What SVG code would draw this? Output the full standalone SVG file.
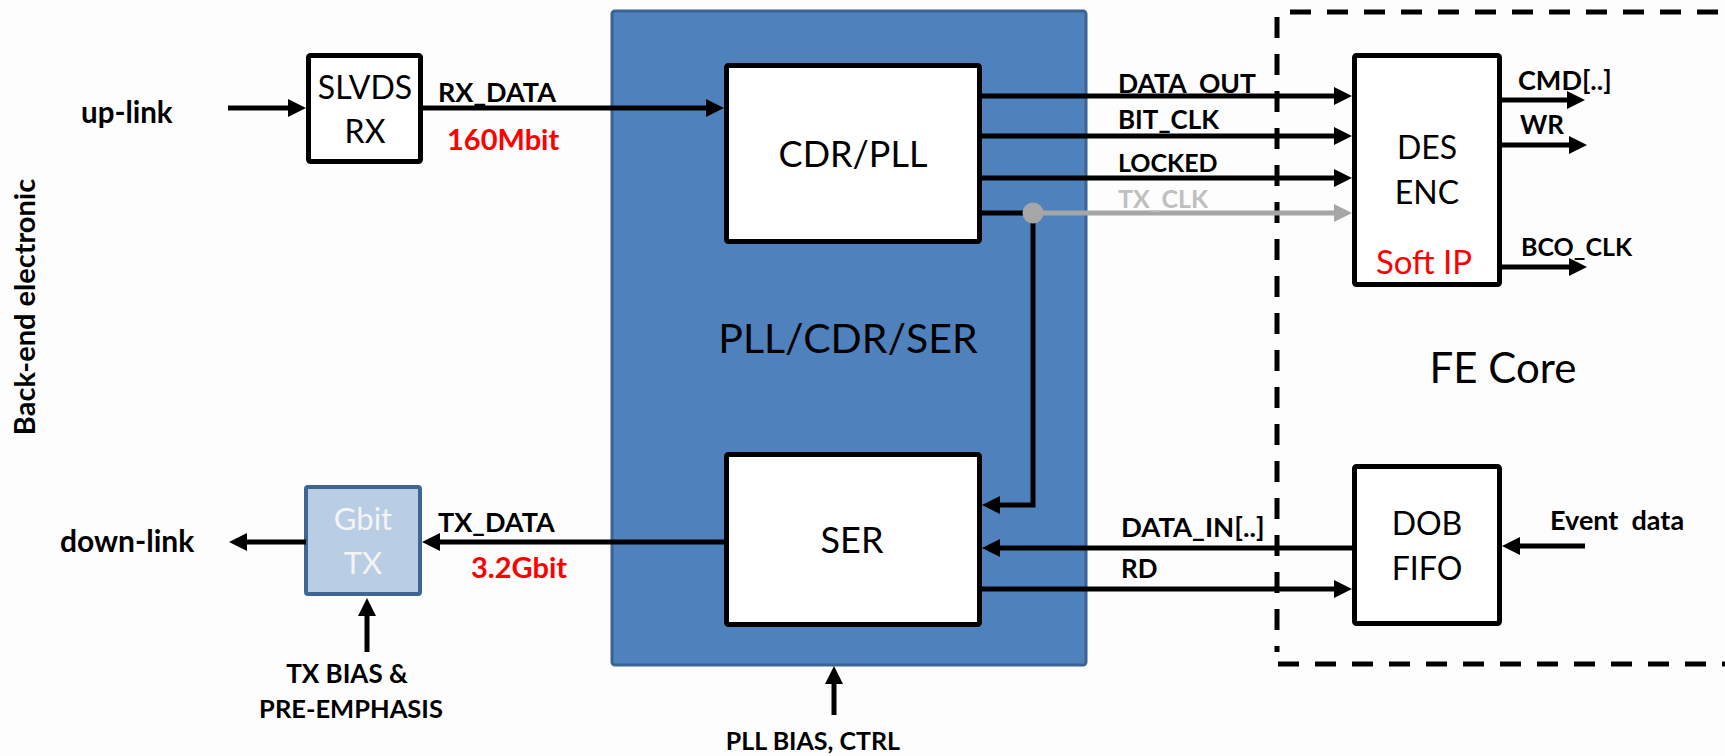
<svg xmlns="http://www.w3.org/2000/svg" width="1725" height="756" viewBox="0 0 1725 756">
  <style>
    .bg { fill: #fdfdfd; }
    .box { fill: #ffffff; stroke: #000000; stroke-width: 5; }
    .block { fill: #4f81bd; stroke: #3a6494; stroke-width: 3; }
    .txbox { fill: #b9cde5; stroke: #3e6593; stroke-width: 4; }
    .wire { fill: none; stroke: #000000; stroke-width: 5; }
    .wire-gray { fill: none; stroke: #a6a6a6; stroke-width: 5; }
    .dash { fill: none; stroke: #000000; stroke-width: 5; stroke-dasharray: 21 16; }
    .name { font-family: Lato, "Liberation Sans", sans-serif; fill: #000000; text-anchor: middle; }
    .sig { font-family: Lato, "Liberation Sans", sans-serif; font-weight: bold; font-size: 26px; fill: #000000; }
    .rate { font-family: Lato, "Liberation Sans", sans-serif; font-weight: bold; font-size: 29px; fill: #ff0000; }
  </style>
  <defs>
    <marker id="arrow" viewBox="0 0 18 18" refX="6" refY="9" markerWidth="18" markerHeight="18" markerUnits="userSpaceOnUse" orient="auto">
      <path d="M0,0 L18,9 L0,18 z" fill="#000000"/>
    </marker>
    <marker id="arrow-gray" viewBox="0 0 18 18" refX="6" refY="9" markerWidth="18" markerHeight="18" markerUnits="userSpaceOnUse" orient="auto">
      <path d="M0,0 L18,9 L0,18 z" fill="#a6a6a6"/>
    </marker>
  </defs>

  <rect class="bg" x="0" y="0" width="1725" height="756"/>

  <!-- side caption -->
  <text class="sig" transform="translate(35,307) rotate(-90)" text-anchor="middle" style="font-size:29px">Back-end electronic</text>

  <!-- front-end core boundary -->
  <g id="fe-core">
    <line class="dash" x1="1290" y1="12" x2="1725" y2="12"/>
    <line class="dash" x1="1277" y1="17" x2="1277" y2="652"/>
    <line class="dash" x1="1278" y1="664" x2="1725" y2="664"/>
    <text class="name" x="1503" y="383" font-size="42">FE Core</text>
  </g>

  <!-- PLL / CDR / SER macro -->
  <g id="pll-cdr-ser">
    <rect class="block" x="612" y="11" width="474" height="654" rx="3"/>
    <text class="name" x="848" y="353" font-size="41">PLL/CDR/SER</text>
  </g>

  <g id="slvds-rx">
    <rect class="box" x="308.5" y="55.5" width="112" height="106" rx="2"/>
    <text class="name" x="365" y="99" font-size="32">SLVDS</text>
    <text class="name" x="365" y="143" font-size="32">RX</text>
  </g>

  <g id="cdr-pll">
    <rect class="box" x="726.5" y="65.5" width="253" height="176" rx="2"/>
    <text class="name" x="853" y="167" font-size="36">CDR/PLL</text>
  </g>

  <g id="ser">
    <rect class="box" x="726.5" y="454.5" width="253" height="170" rx="2"/>
    <text class="name" x="852" y="553" font-size="36">SER</text>
  </g>

  <g id="des-enc">
    <rect class="box" x="1354.5" y="55.5" width="145" height="229" rx="2"/>
    <text class="name" x="1427" y="159" font-size="32">DES</text>
    <text class="name" x="1427" y="204" font-size="32">ENC</text>
    <text class="name" x="1424" y="274" font-size="33" style="fill:#ff0000">Soft IP</text>
  </g>

  <g id="dob-fifo">
    <rect class="box" x="1354.5" y="466.5" width="145" height="157" rx="2"/>
    <text class="name" x="1427" y="535" font-size="32">DOB</text>
    <text class="name" x="1427" y="580" font-size="32">FIFO</text>
  </g>

  <g id="gbit-tx">
    <rect class="txbox" x="306" y="487" width="114" height="107" rx="2"/>
    <text class="name" x="363" y="530" font-size="31" style="fill:#f4f4f4">Gbit</text>
    <text class="name" x="363" y="574" font-size="31" style="fill:#f4f4f4">TX</text>
  </g>

  <!-- connectors -->
  <g id="connectors">
    <line class="wire" x1="228" y1="108" x2="294" y2="108" marker-end="url(#arrow)"/>
    <line class="wire" x1="421" y1="108" x2="712" y2="108" marker-end="url(#arrow)"/>
    <line class="wire" x1="980" y1="96" x2="1340" y2="96" marker-end="url(#arrow)"/>
    <line class="wire" x1="980" y1="136" x2="1340" y2="136" marker-end="url(#arrow)"/>
    <line class="wire" x1="980" y1="178" x2="1340" y2="178" marker-end="url(#arrow)"/>
    <line class="wire" x1="980" y1="213" x2="1033" y2="213"/>
    <line class="wire-gray" x1="1033" y1="213" x2="1340" y2="213" marker-end="url(#arrow-gray)"/>
    <polyline class="wire" points="1033,213 1033,505 994,505" marker-end="url(#arrow)"/>
    <circle cx="1033" cy="213" r="10.5" fill="#a6a6a6"/>
    <line class="wire" x1="1500" y1="100" x2="1573" y2="100" marker-end="url(#arrow)"/>
    <line class="wire" x1="1500" y1="145" x2="1575" y2="145" marker-end="url(#arrow)"/>
    <line class="wire" x1="1500" y1="267" x2="1575" y2="267" marker-end="url(#arrow)"/>
    <line class="wire" x1="726" y1="542" x2="434" y2="542" marker-end="url(#arrow)"/>
    <line class="wire" x1="306" y1="542" x2="241" y2="542" marker-end="url(#arrow)"/>
    <line class="wire" x1="1354" y1="548" x2="994" y2="548" marker-end="url(#arrow)"/>
    <line class="wire" x1="980" y1="589" x2="1340" y2="589" marker-end="url(#arrow)"/>
    <line class="wire" x1="1585" y1="546" x2="1514" y2="546" marker-end="url(#arrow)"/>
    <line class="wire" x1="367" y1="652" x2="367" y2="610" marker-end="url(#arrow)"/>
    <line class="wire" x1="834" y1="715" x2="834" y2="678" marker-end="url(#arrow)"/>
  </g>

  <!-- signal labels -->
  <g id="labels">
    <text class="sig" x="81" y="123" style="font-size:29.5px">up-link</text>
    <text class="sig" x="60" y="552" style="font-size:30px">down-link</text>
    <text class="sig" x="438" y="102" style="font-size:27px">RX_DATA</text>
    <text class="rate" x="447" y="150">160Mbit</text>
    <text class="sig" x="438" y="532" style="font-size:27px">TX_DATA</text>
    <text class="rate" x="471" y="578">3.2Gbit</text>
    <text class="sig" x="1118" y="93" style="font-size:26.5px">DATA_OUT</text>
    <text class="sig" x="1118" y="129">BIT_CLK</text>
    <text class="sig" x="1118" y="172" style="font-size:25px">LOCKED</text>
    <text class="sig" x="1118" y="208" style="font-size:25px;fill:#bfbfbf">TX_CLK</text>
    <text class="sig" x="1518" y="90" style="font-size:27px">CMD[..]</text>
    <text class="sig" x="1520" y="134">WR</text>
    <text class="sig" x="1521" y="256" style="font-size:25px">BCO_CLK</text>
    <text class="sig" x="1121" y="537" style="font-size:27.5px">DATA_IN[..]</text>
    <text class="sig" x="1121" y="578">RD</text>
    <text class="sig" x="1550" y="530" style="font-size:27px" xml:space="preserve">Event  data</text>
    <text class="sig" x="347" y="683" text-anchor="middle">TX BIAS &amp;</text>
    <text class="sig" x="351" y="718" text-anchor="middle" style="font-size:25.5px">PRE-EMPHASIS</text>
    <text class="sig" x="813" y="750" text-anchor="middle" style="font-size:25px">PLL BIAS, CTRL</text>
  </g>
</svg>
